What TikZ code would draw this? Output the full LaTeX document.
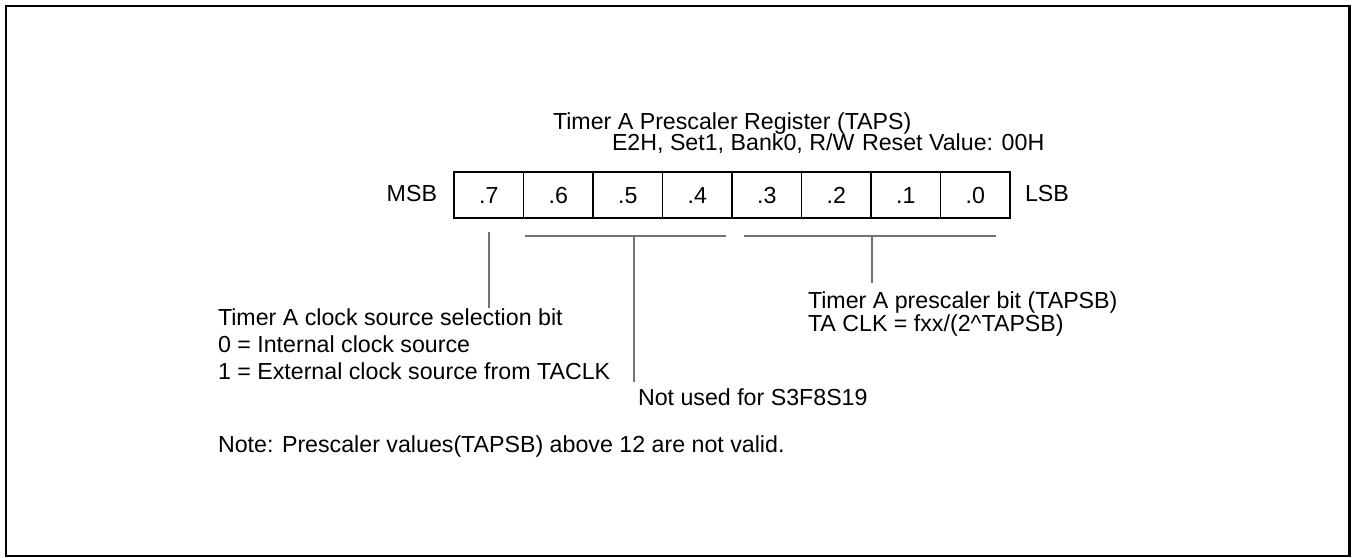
\documentclass[tikz,border=0pt]{standalone}
\usepackage{fontspec}
\setmainfont{Liberation Sans}
\begin{document}
\begin{tikzpicture}[x=0.5pt,y=-0.5pt,
  txt/.style={anchor=base west,inner sep=0pt,outer sep=0pt,font=\fontsize{11.6}{13.9}\selectfont},
  cell/.style={draw,line width=0.75pt,minimum width=34.75pt,minimum height=23pt,inner sep=0pt,outer sep=0pt,text height=8.3pt,text depth=0pt,font=\fontsize{11.6}{13.9}\selectfont},
  lead/.style={draw=black!55,line width=0.7pt}]
\useasboundingbox (0,0) rectangle (1352,557);
\draw[line width=1.2pt] (6,6) rectangle (1349.5,556);
% title
\node[txt] (title) at (553,129) {Timer A Prescaler Register (TAPS)};
\node[txt] (addr) at (612,150) {E2H, Set1, Bank0, R/W};
\node[txt] (reset) at (862,150) {Reset Value: 00H};
% register
\foreach \i/\lab in {0/.7,1/.6,2/.5,3/.4,4/.3,5/.2,6/.1,7/.0}{
  \node[cell] (b\i) at ({454+69.5*(\i+0.5)},195) {\lab};
}
\node[txt,anchor=base east] (msb) at (437,201) {MSB};
\node[txt] (lsb) at (1025,201) {LSB};
% leader coordinates
\coordinate (c7top) at (489,232);
\coordinate (c7bot) at (489,308);
\coordinate (l1) at (525,236);
\coordinate (l2) at (726,236);
\coordinate (lm) at (634,236);
\coordinate (lmb) at (634,382);
\coordinate (r1) at (744,236);
\coordinate (r2) at (996,236);
\coordinate (rm) at (872,236);
\coordinate (rmb) at (872,283);
% descriptions
\node[txt] (clk1) at (218,325) {Timer A clock source selection bit};
\node[txt] (clk2) at (218,352) {0 = Internal clock source};
\node[txt] (clk3) at (218,379) {1 = External clock source from TACLK};
\node[txt] (pre1) at (808,308) {Timer A prescaler bit (TAPSB)};
\node[txt] (pre2) at (808,331) {TA CLK = fxx/(2\textasciicircum TAPSB)};
\node[txt] (nu) at (638,405) {Not used for S3F8S19};
\node[txt] (note) at (218,452) {Note: Prescaler values(TAPSB) above 12 are not valid.};
% leaders
\draw[lead] (c7top) -- (c7bot);
\draw[lead] (l1) -- (l2);
\draw[lead] (lm) -- (lmb);
\draw[lead] (r1) -- (r2);
\draw[lead] (rm) -- (rmb);
\end{tikzpicture}
\end{document}
